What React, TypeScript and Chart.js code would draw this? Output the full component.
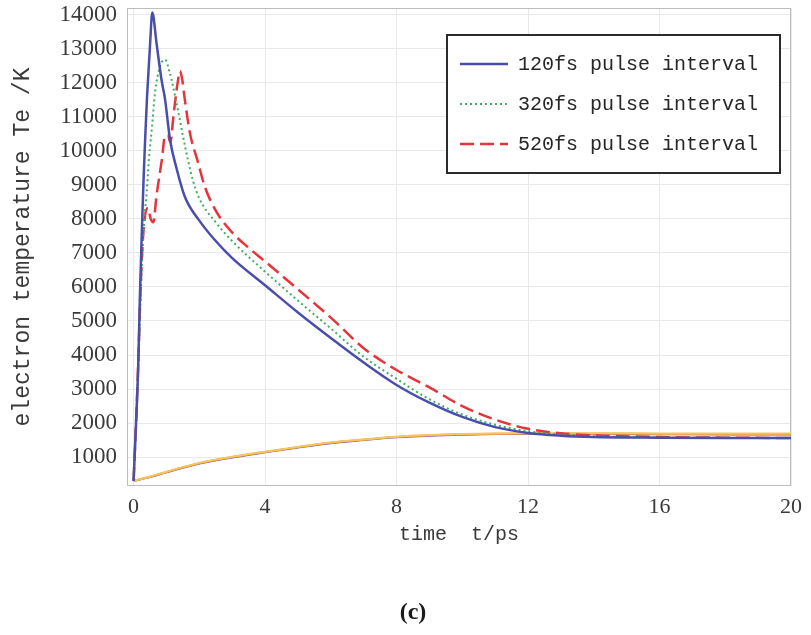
import React, { useEffect, useRef } from "react";
import { Chart, registerables } from "chart.js";

Chart.register(...registerables);

// ---- data ----
const seriesLabels = ["120fs pulse interval", "320fs pulse interval", "520fs pulse interval"];
const yAxisTitle = "electron temperature Te /K";
const xAxisTitle = "time  t/ps";
const caption = "(c)";

const xTickValues = [0, 4, 8, 12, 16, 20];
const yTickValues = [1000, 2000, 3000, 4000, 5000, 6000, 7000, 8000, 9000, 10000, 11000, 12000, 13000, 14000];

// electron temperature, 120 fs interval
const t120 = [0, 0.07, 0.14, 0.19, 0.25, 0.3, 0.35, 0.41, 0.5, 0.57, 0.7, 0.85, 0.96, 1.11, 1.32, 1.56, 2.0, 2.5, 3.0, 4.0, 5.0, 6.0, 7.0, 8.0, 9.0, 10.0, 11.0, 12.0, 13.0, 14.0, 16.0, 18.0, 20.0];
const te120 = [300, 1880, 3650, 5620, 7590, 9060, 10300, 11600, 13100, 14070, 13150, 12090, 11500, 10320, 9440, 8650, 7950, 7350, 6850, 6050, 5250, 4500, 3780, 3120, 2600, 2180, 1880, 1710, 1630, 1590, 1570, 1560, 1560];

// electron temperature, 320 fs interval
const t320 = [0, 0.07, 0.14, 0.2, 0.27, 0.33, 0.4, 0.47, 0.56, 0.65, 0.8, 0.96, 1.1, 1.2, 1.35, 1.5, 1.65, 1.8, 2.0, 2.5, 3.0, 4.0, 5.0, 6.0, 7.0, 8.0, 9.0, 10.0, 11.0, 12.0, 13.0, 14.0, 16.0, 18.0, 20.0];
const te320 = [300, 1800, 3500, 5300, 7000, 8000, 8800, 9800, 10700, 11700, 12470, 12680, 12300, 11900, 11200, 10450, 9750, 9150, 8600, 7900, 7350, 6450, 5600, 4780, 3950, 3300, 2700, 2250, 1950, 1760, 1660, 1610, 1575, 1565, 1560];

// electron temperature, 520 fs interval
const t520 = [0, 0.07, 0.14, 0.2, 0.27, 0.35, 0.44, 0.52, 0.6, 0.7, 0.86, 0.96, 1.05, 1.12, 1.2, 1.27, 1.34, 1.41, 1.48, 1.56, 1.72, 1.95, 2.17, 2.54, 3.0, 3.5, 4.0, 5.0, 6.0, 7.0, 8.0, 9.0, 10.0, 11.0, 12.0, 13.0, 14.0, 16.0, 18.0, 20.0];
const te520 = [300, 1900, 3700, 5600, 7200, 8100, 8320, 8000, 7900, 8700, 9735, 10450, 10450, 10250, 10900, 11500, 12000, 12350, 12100, 11500, 10500, 9700, 8940, 8180, 7600, 7150, 6750, 5930, 5100, 4200, 3560, 3050, 2500, 2100, 1830, 1700, 1640, 1590, 1570, 1560];

// lattice temperature curves (unlabelled in the legend)
const tLat = [0, 0.5, 1, 2, 3, 4, 5, 6, 7, 8, 9, 10, 11, 12, 13, 14, 16, 18, 20];
const latA = [300, 430, 570, 830, 1010, 1160, 1300, 1430, 1520, 1600, 1650, 1680, 1695, 1700, 1700, 1700, 1695, 1690, 1690];
const latB = [300, 420, 560, 820, 1000, 1150, 1290, 1420, 1510, 1590, 1640, 1670, 1685, 1690, 1690, 1688, 1682, 1678, 1675];
const latC = [300, 410, 550, 810, 990, 1140, 1280, 1410, 1500, 1580, 1630, 1660, 1675, 1680, 1678, 1675, 1670, 1667, 1665];

const xMin = -0.2;
const xMax = 20;
const yMin = 150;
const yMax = 14200;

const pts = (xs: number[], ys: number[]) => xs.map((x, i) => ({ x, y: ys[i] }));

const framePlugin = {
  id: "frame",
  beforeDatasetsDraw(chart: any) {
    const { ctx, chartArea: a } = chart;
    ctx.save();
    ctx.strokeStyle = "#bdbdbd";
    ctx.lineWidth = 1;
    ctx.strokeRect(a.left + 0.5, a.top + 0.5, a.right - a.left - 1, a.bottom - a.top - 1);
    ctx.restore();
  },
};

const boxLegendPlugin = {
  id: "boxLegend",
  afterDraw(chart: any) {
    const { ctx, chartArea: a } = chart;
    const items = chart.data.datasets.filter((d: any) => d.inLegend);
    const w = 333;
    const h = 138;
    const right = a.right - 11;
    const top = a.top + 27;
    const left = right - w;
    ctx.save();
    ctx.fillStyle = "#ffffff";
    ctx.fillRect(left, top, w, h);
    ctx.lineWidth = 2;
    ctx.strokeStyle = "#2b2b2b";
    ctx.strokeRect(left, top, w, h);
    ctx.font = '20px "Liberation Mono", "DejaVu Sans Mono", monospace';
    ctx.textBaseline = "middle";
    ctx.textAlign = "left";
    items.forEach((d: any, i: number) => {
      const y = top + 29 + i * 40;
      ctx.beginPath();
      ctx.setLineDash(d.borderDash || []);
      ctx.strokeStyle = d.borderColor;
      ctx.lineWidth = d.borderWidth;
      ctx.moveTo(left + 13, y);
      ctx.lineTo(left + 61, y);
      ctx.stroke();
      ctx.setLineDash([]);
      ctx.fillStyle = "#262626";
      ctx.fillText(d.label, left + 71, y + 1);
    });
    ctx.restore();
  },
};

export default function App() {
  const ref = useRef<HTMLCanvasElement>(null);

  useEffect(() => {
    const canvas = ref.current;
    if (!canvas) return;
    const chart = new Chart(canvas, {
      type: "line",
      data: {
        datasets: [
          {
            label: seriesLabels[0],
            data: pts(t120, te120),
            borderColor: "#4a4eab",
            borderWidth: 2.5,
            borderDash: [],
            inLegend: true,
          } as any,
          {
            label: seriesLabels[1],
            data: pts(t320, te320),
            borderColor: "#3fae5f",
            borderWidth: 2,
            borderDash: [2, 3],
            inLegend: true,
          } as any,
          {
            label: seriesLabels[2],
            data: pts(t520, te520),
            borderColor: "#e4353b",
            borderWidth: 2.5,
            borderDash: [14, 6],
            inLegend: true,
          } as any,
          {
            label: "lattice a",
            data: pts(tLat, latA),
            borderColor: "#f3c75a",
            borderWidth: 2,
          } as any,
          {
            label: "lattice b",
            data: pts(tLat, latB),
            borderColor: "#ee8a45",
            borderWidth: 2,
          } as any,
          {
            label: "lattice c",
            data: pts(tLat, latC),
            borderColor: "#7a5aa8",
            borderWidth: 2,
          } as any,
        ],
      },
      options: {
        animation: false,
        responsive: false,
        maintainAspectRatio: false,
        layout: { padding: { left: 0, top: 8, right: 20, bottom: 0 } },
        elements: {
          point: { radius: 0 },
          line: { cubicInterpolationMode: "monotone", fill: false },
        },
        plugins: {
          legend: { display: false },
          tooltip: { enabled: false },
        },
        scales: {
          x: {
            type: "linear",
            min: xMin,
            max: xMax,
            afterBuildTicks: (s: any) => {
              s.ticks = xTickValues.map((v) => ({ value: v }));
            },
            afterFit: (s: any) => {
              s.height = 149;
              s.paddingLeft = 0;
              s.paddingRight = 0;
            },
            ticks: {
              padding: 8,
              color: "#3a3a3a",
              font: { family: '"Liberation Serif", serif', size: 22 },
              maxRotation: 0,
              autoSkip: false,
              callback: (v: any) => String(v),
            },
            grid: { color: "#e9e9e9", drawTicks: false },
            border: { display: false },
            title: {
              display: true,
              text: xAxisTitle,
              color: "#3a3a3a",
              font: { family: '"Liberation Mono", monospace', size: 20 },
              padding: { top: 0, bottom: 88 },
            },
          },
          y: {
            type: "linear",
            min: yMin,
            max: yMax,
            afterBuildTicks: (s: any) => {
              s.ticks = yTickValues.map((v) => ({ value: v }));
            },
            afterFit: (s: any) => {
              s.width = 127;
              s.paddingTop = 0;
              s.paddingBottom = 0;
            },
            ticks: {
              padding: 10,
              color: "#3a3a3a",
              autoSkip: false,
              font: { family: '"Liberation Serif", serif', size: 23 },
              callback: (v: any) => String(v),
            },
            grid: { color: "#e9e9e9", drawTicks: false },
            border: { display: false },
            title: {
              display: true,
              text: yAxisTitle,
              color: "#3a3a3a",
              font: { family: '"Liberation Mono", monospace', size: 23 },
              padding: { top: 9, bottom: 0 },
            },
          },
        },
      },
      plugins: [framePlugin, boxLegendPlugin],
    });
    return () => chart.destroy();
  }, []);

  return (
    <div
      style={{
        position: "fixed",
        left: 0,
        top: 0,
        width: 811,
        height: 635,
        background: "#ffffff",
      }}
    >
      <canvas ref={ref} width={811} height={635} style={{ display: "block", width: 811, height: 635 }} />
      <div
        style={{
          position: "absolute",
          left: 0,
          top: 597,
          width: 826,
          textAlign: "center",
          font: 'bold 24px "Liberation Serif", serif',
          lineHeight: "28px",
          color: "#1a1a1a",
        }}
      >
        {caption}
      </div>
    </div>
  );
}
